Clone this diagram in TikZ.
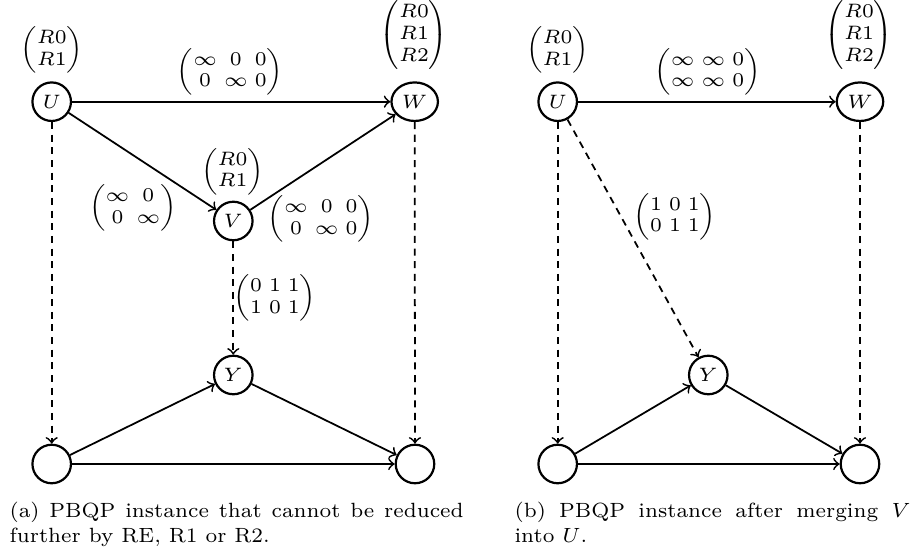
\RequirePackage{fix-cm}
\documentclass[tikz,border=0pt]{standalone}
\usepackage{amsmath}
\usetikzlibrary{shapes.geometric}
\newcommand\myndfont{\fontsize{6.6}{7.4}\selectfont\setlength\arraycolsep{1.2pt}}
\newcommand\mycapfont{\fontsize{7}{8.5}\selectfont\setlength\parindent{0pt}}
\begin{document}
\begin{tikzpicture}[x=0.34pt,y=-0.34pt,
  vert/.style={draw,ellipse,line width=0.75pt,minimum width=13.1pt,minimum height=13.1pt,inner sep=0.5pt,font=\myndfont},
  wide/.style={minimum width=15.8pt},
  lab/.style={inner sep=0pt,font=\myndfont},
  edge/.style={->,line width=0.6pt},
  dedge/.style={edge,dash pattern=on 2.4pt off 1.9pt},
  capnode/.style={anchor=north west,inner sep=0pt,align=justify,font=\mycapfont}]
\useasboundingbox (0,0) rectangle (914,557);
% ---------- (a) ----------
\node[vert] (U) at (51.7,101.7) {$U$};
\node[vert,wide] (W) at (414.7,101.7) {$W$};
\node[vert] (V) at (233.3,221) {$V$};
\node[vert] (Y) at (233.3,375) {$Y$};
\node[vert] (A) at (51.7,464) {};
\node[vert] (B) at (415,464) {};
\node[lab] (Ul) at (51.7,50) {$\begin{pmatrix}R0\\R1\end{pmatrix}$};
\node[lab] (Wl) at (414,35) {$\begin{pmatrix}R0\\R1\\R2\end{pmatrix}$};
\node[lab] (Vl) at (232.5,171.7) {$\begin{pmatrix}R0\\R1\end{pmatrix}$};
\node[lab] (UWl) at (230,71.7) {$\begin{pmatrix}\infty & 0 & 0\\ 0 & \infty & 0\end{pmatrix}$};
\node[lab] (UVl) at (133,208) {$\begin{pmatrix}\infty & 0\\ 0 & \infty\end{pmatrix}$};
\node[lab] (VWl) at (320.8,219) {$\begin{pmatrix}\infty & 0 & 0\\ 0 & \infty & 0\end{pmatrix}$};
\node[lab] (VYl) at (275,298.3) {$\begin{pmatrix}0 & 1 & 1\\ 1 & 0 & 1\end{pmatrix}$};
\draw[edge] (U) -- (W);
\draw[edge] (U) -- (V);
\draw[edge] (V) -- (W);
\draw[edge] (A) -- (Y);
\draw[edge] (Y) -- (B);
\draw[edge] (A) -- (B);
\draw[dedge] (U) -- (A);
\draw[dedge] (W) -- (B);
\draw[dedge] (V) -- (Y);
% ---------- (b) ----------
\node[vert] (U2) at (557.7,101.7) {$U$};
\node[vert,wide] (W2) at (860,101.7) {$W$};
\node[vert] (Y2) at (708.3,375) {$Y$};
\node[vert] (A2) at (557.7,464) {};
\node[vert] (B2) at (860,464) {};
\node[lab] (U2l) at (557.5,50) {$\begin{pmatrix}R0\\R1\end{pmatrix}$};
\node[lab] (W2l) at (859,35) {$\begin{pmatrix}R0\\R1\\R2\end{pmatrix}$};
\node[lab] (UW2l) at (707.5,71.7) {$\begin{pmatrix}\infty & \infty & 0\\ \infty & \infty & 0\end{pmatrix}$};
\node[lab] (UY2l) at (675,216.7) {$\begin{pmatrix}1 & 0 & 1\\ 0 & 1 & 1\end{pmatrix}$};
\draw[edge] (U2) -- (W2);
\draw[edge] (A2) -- (Y2);
\draw[edge] (Y2) -- (B2);
\draw[edge] (A2) -- (B2);
\draw[dedge] (U2) -- (A2);
\draw[dedge] (W2) -- (B2);
\draw[dedge] (U2) -- (Y2);
% ---------- captions ----------
\node[capnode,text width=154.4pt] (capa) at (9,501.5) {(a) PBQP instance that cannot be reduced\linebreak further by RE, R1 or R2.};
\node[capnode,text width=134.6pt] (capb) at (514,501.5) {(b) PBQP instance after merging $V$\linebreak into $U$.};
\end{tikzpicture}
\end{document}
